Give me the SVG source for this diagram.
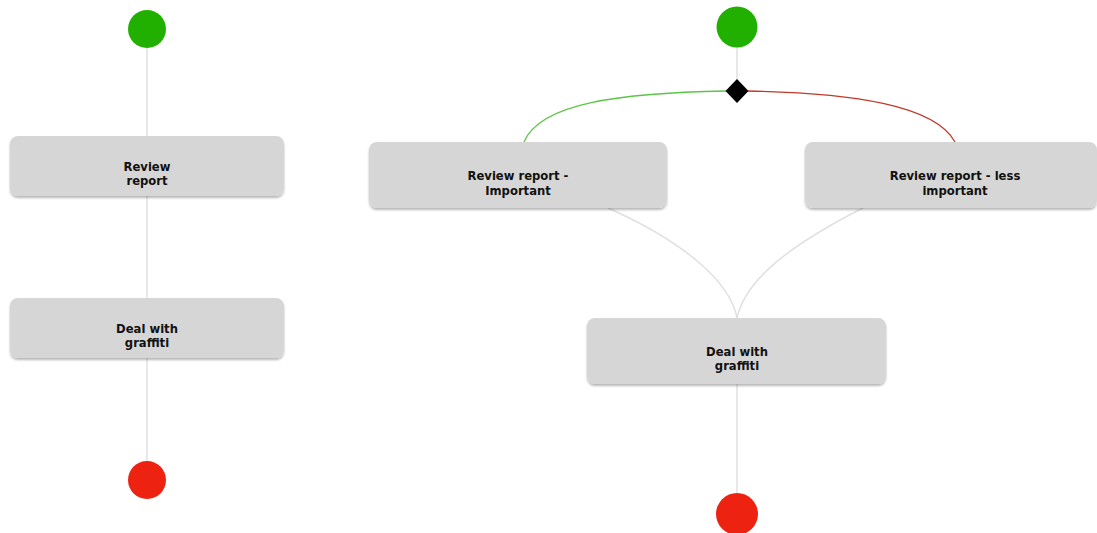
<svg xmlns="http://www.w3.org/2000/svg" width="1097" height="533" viewBox="0 0 1097 533">
<defs>
<filter id="sh" x="-10%" y="-20%" width="120%" height="150%">
<feDropShadow dx="0" dy="2" stdDeviation="1.2" flood-color="#000" flood-opacity="0.28"/>
</filter>
<style>
.box{fill:#d6d6d6;filter:url(#sh)}
.t{font-family:"DejaVu Sans",Verdana,sans-serif;font-weight:bold;font-size:11.6px;fill:#111;text-anchor:middle}
.c{fill:none;stroke:#e0e0e0;stroke-width:1.5}
.start{fill:#22b000}
.end{fill:#ee2211}
</style>
</defs>
<rect width="1097" height="533" fill="#fff"/>
<g id="connectors">
<line class="c" x1="147" y1="48" x2="147" y2="136"/>
<line class="c" x1="147" y1="196" x2="147" y2="298"/>
<line class="c" x1="147" y1="358" x2="147" y2="461"/>
<line class="c" x1="737" y1="47" x2="737" y2="80"/>
<path d="M726 91 C620 93 540 103 524 142" fill="none" stroke="#5cc448" stroke-width="1.3"/>
<path d="M748 91 C852 93 935 105 955 142" fill="none" stroke="#c0392b" stroke-width="1.3"/>
<path class="c" d="M608 208 C680 240 730 280 737 318"/>
<path class="c" d="M863 208 C790 245 745 280 737 318"/>
<line class="c" x1="737" y1="384" x2="737" y2="493"/>
</g>
<g id="start1"><circle class="start" cx="147" cy="29" r="19"/></g>
<g id="review1"><rect class="box" x="10" y="136" width="274" height="60" rx="8"/>
<text class="t" x="147" y="171">Review</text><text class="t" x="147" y="185">report</text></g>
<g id="deal1"><rect class="box" x="10" y="298" width="274" height="60" rx="8"/>
<text class="t" x="147" y="333">Deal with</text><text class="t" x="147" y="347">graffiti</text></g>
<g id="end1"><circle class="end" cx="147" cy="480" r="19"/></g>
<g id="start2"><circle class="start" cx="737" cy="27" r="20.5"/></g>
<g id="decision"><polygon points="737,79 748.5,91 737,103 725.5,91" fill="#000"/></g>
<g id="reviewImp"><rect class="box" x="369" y="142" width="298" height="66" rx="8"/>
<text class="t" x="518" y="180">Review report -</text><text class="t" x="518" y="195">Important</text></g>
<g id="reviewLess"><rect class="box" x="805" y="142" width="292" height="66" rx="8"/>
<text class="t" x="955" y="180">Review report - less</text><text class="t" x="955" y="195">important</text></g>
<g id="deal2"><rect class="box" x="587" y="318" width="299" height="66" rx="8"/>
<text class="t" x="737" y="356">Deal with</text><text class="t" x="737" y="370">graffiti</text></g>
<g id="end2"><circle class="end" cx="737" cy="514" r="21"/></g>
</svg>
